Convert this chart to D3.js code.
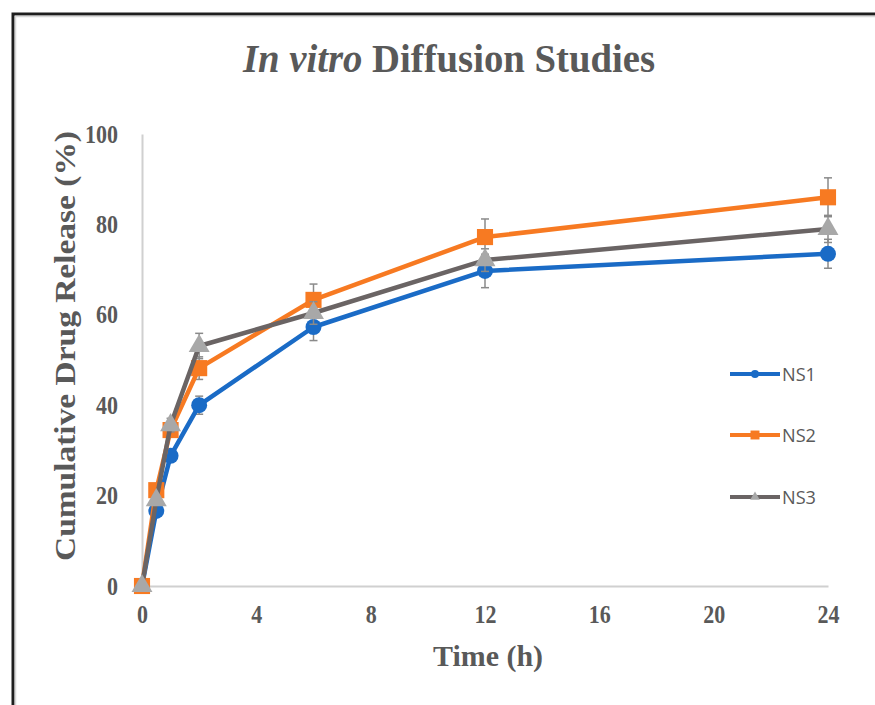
<!DOCTYPE html>
<html><head><meta charset="utf-8">
<script src="https://cdn.jsdelivr.net/npm/d3@7"></script>
<style>body{margin:0;background:#fff}svg{display:block}</style>
</head><body>
<svg id="c" width="875" height="705"></svg>
<script>
const times = [0, 0.5, 1, 2, 6, 12, 24];
const ns1 = [0, 16.6, 28.8, 40.0, 57.3, 69.7, 73.5];
const ns2 = [0, 21.2, 34.5, 48.2, 63.3, 77.2, 86.0];
const ns3 = [0, 19.0, 35.6, 53.1, 60.4, 72.1, 79.0];
const err1 = [0, 1.0, 1.2, 2.0, 3.0, 3.7, 3.2];
const err2 = [0, 1.0, 1.5, 2.5, 3.5, 4.0, 4.3];
const err3 = [0, 1.0, 1.5, 2.8, 2.5, 2.5, 3.0];
const xTicks = [0, 4, 8, 12, 16, 20, 24];
const yTicks = [0, 20, 40, 60, 80, 100];
const seriesNames = ["NS1", "NS2", "NS3"];

const serif = "'Liberation Serif', 'Times New Roman', serif";
const svg = d3.select("#c");
// frame
svg.append("rect").attr("x",13).attr("y",14).attr("width",900).attr("height",720)
  .attr("fill","none").attr("stroke","#1e1e1e").attr("stroke-width",3);
svg.append("rect").attr("x",15.5).attr("y",16.5).attr("width",900).attr("height",720)
  .attr("fill","none").attr("stroke","#d8d8d8").attr("stroke-width",1.5);

const x = d3.scaleLinear().domain([0,24]).range([142,828]);
const y = d3.scaleLinear().domain([0,100]).range([586,134]);

// axes
const gx = svg.append("g").attr("transform","translate(0,586)")
  .call(d3.axisBottom(x).tickValues(xTicks).tickSize(0).tickPadding(19).tickFormat(d3.format("d")));
const gy = svg.append("g").attr("transform","translate(142,0)")
  .call(d3.axisLeft(y).tickValues(yTicks).tickSize(0).tickPadding(24).tickFormat(d3.format("d")));
[gx,gy].forEach(g=>{
  g.select(".domain").attr("stroke","#d0d0d0").attr("stroke-width",2);
  g.selectAll("text").attr("font-family",serif)
   .attr("font-weight","bold").attr("font-size",25).attr("fill","#595959")
   .attr("textLength",function(){return this.textContent.length*11;})
   .attr("lengthAdjust","spacingAndGlyphs");
});

// title
const title = svg.append("text").attr("x",449).attr("y",72).attr("text-anchor","middle")
  .attr("font-family",serif).attr("font-size",40)
  .attr("font-weight","bold").attr("fill","#595959")
  .attr("textLength",412).attr("lengthAdjust","spacingAndGlyphs");
title.append("tspan").attr("font-style","italic").text("In vitro");
title.append("tspan").text(" Diffusion Studies");

// axis titles
svg.append("text").attr("x",488).attr("y",666).attr("text-anchor","middle")
  .attr("font-family",serif).attr("font-size",29)
  .attr("font-weight","bold").attr("fill","#595959")
  .attr("textLength",110).attr("lengthAdjust","spacingAndGlyphs").text("Time (h)");
svg.append("text").attr("transform","translate(75,346) rotate(-90)").attr("text-anchor","middle")
  .attr("font-family",serif).attr("font-size",29)
  .attr("font-weight","bold").attr("fill","#595959")
  .attr("textLength",430).attr("lengthAdjust","spacingAndGlyphs").text("Cumulative Drug Release (%)");

const series = [
  {name:seriesNames[0], vals:ns1, err:err1, line:"#1a6bc6", mark:"#1a6bc6", shape:d3.symbolCircle, size:200, lsize:50},
  {name:seriesNames[1], vals:ns2, err:err2, line:"#f77a22", mark:"#f77a22", shape:d3.symbolSquare, size:260, lsize:80},
  {name:seriesNames[2], vals:ns3, err:err3, line:"#6a6464", mark:"#a8a8a8", shape:d3.symbolTriangle, size:190, lsize:40}
];

const line = d3.line().x(d=>x(d[0])).y(d=>y(d[1]));
series.forEach(s=>{
  const pts = times.map((t,i)=>[t,s.vals[i],s.err[i]]);
  const g = svg.append("g");
  const eb = g.selectAll(".eb").data(pts).join("g").attr("stroke","#8a8a8a").attr("stroke-width",1.5);
  eb.append("line").attr("x1",d=>x(d[0])).attr("x2",d=>x(d[0])).attr("y1",d=>y(d[1]+d[2])).attr("y2",d=>y(d[1]-d[2]));
  eb.append("line").attr("x1",d=>x(d[0])-4).attr("x2",d=>x(d[0])+4).attr("y1",d=>y(d[1]+d[2])).attr("y2",d=>y(d[1]+d[2]));
  eb.append("line").attr("x1",d=>x(d[0])-4).attr("x2",d=>x(d[0])+4).attr("y1",d=>y(d[1]-d[2])).attr("y2",d=>y(d[1]-d[2]));
  g.append("path").datum(pts).attr("d",line).attr("fill","none").attr("stroke",s.line).attr("stroke-width",4.5).attr("stroke-linejoin","round");
  g.selectAll(".m").data(pts).join("path")
    .attr("transform",d=>`translate(${x(d[0])},${y(d[1])})`)
    .attr("d",d3.symbol().type(s.shape).size(s.size)).attr("fill",s.mark);
});

// legend
const legY = [374, 435, 497];
series.forEach((s,i)=>{
  const g = svg.append("g").attr("transform",`translate(0,${legY[i]})`);
  g.append("line").attr("x1",730).attr("x2",780).attr("y1",0).attr("y2",0).attr("stroke",s.line).attr("stroke-width",4);
  g.append("path").attr("transform","translate(755,0)").attr("d",d3.symbol().type(s.shape).size(s.lsize)).attr("fill",s.mark);
  g.append("text").attr("x",782).attr("y",0).attr("dy","0.36em")
    .attr("font-family","'Open Sans', 'Liberation Sans', sans-serif").attr("font-size",19)
    .attr("fill","#595959").attr("textLength",34).attr("lengthAdjust","spacingAndGlyphs").text(s.name);
});
</script>
</body></html>
